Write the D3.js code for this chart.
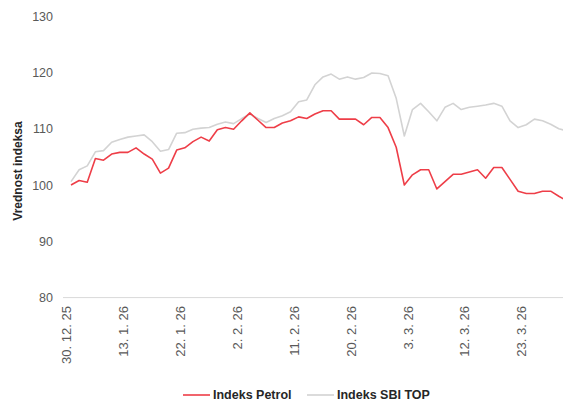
<!DOCTYPE html>
<html>
<head>
<meta charset="utf-8">
<script src="https://cdn.jsdelivr.net/npm/d3@7"></script>
<style>
  body { margin: 0; background: #fff; }
  svg { display: block; font-family: "Liberation Sans", Arial, sans-serif; }
</style>
</head>
<body>
<svg id="chart" width="563" height="403"></svg>
<script>
// trading days (category axis), every 7th one is labelled
var dates = ["30. 12. 25","5. 1. 26","6. 1. 26","7. 1. 26","8. 1. 26","9. 1. 26","12. 1. 26","13. 1. 26",
  "14. 1. 26","15. 1. 26","16. 1. 26","19. 1. 26","20. 1. 26","21. 1. 26","22. 1. 26",
  "23. 1. 26","26. 1. 26","27. 1. 26","28. 1. 26","29. 1. 26","30. 1. 26","2. 2. 26",
  "3. 2. 26","4. 2. 26","5. 2. 26","6. 2. 26","9. 2. 26","10. 2. 26","11. 2. 26",
  "12. 2. 26","13. 2. 26","16. 2. 26","17. 2. 26","18. 2. 26","19. 2. 26","20. 2. 26",
  "23. 2. 26","24. 2. 26","25. 2. 26","26. 2. 26","27. 2. 26","2. 3. 26","3. 3. 26",
  "4. 3. 26","5. 3. 26","6. 3. 26","9. 3. 26","10. 3. 26","11. 3. 26","12. 3. 26",
  "13. 3. 26","16. 3. 26","17. 3. 26","18. 3. 26","19. 3. 26","20. 3. 26","23. 3. 26",
  "24. 3. 26","25. 3. 26","26. 3. 26","27. 3. 26","30. 3. 26"];

var petrol = [100.0,100.8,100.5,104.7,104.4,105.5,105.8,105.8,106.6,105.5,
  104.6,102.1,103.0,106.2,106.6,107.7,108.5,107.8,109.8,110.2,
  109.9,111.4,112.8,111.5,110.2,110.2,111.0,111.4,112.1,111.8,
  112.6,113.2,113.2,111.7,111.7,111.7,110.7,112.0,112.0,110.2,
  106.7,100.0,101.8,102.7,102.7,99.3,100.6,101.9,101.9,102.3,
  102.7,101.2,103.1,103.1,101.0,98.9,98.5,98.5,98.9,98.9,
  98.0,97.2];

var sbiTop = [100.6,102.7,103.4,105.9,106.1,107.6,108.1,108.5,108.7,108.9,
  107.7,106.0,106.3,109.2,109.3,109.9,110.1,110.2,110.8,111.2,
  110.9,111.8,112.6,111.8,111.1,111.8,112.3,113.0,114.8,115.1,
  117.8,119.2,119.7,118.8,119.2,118.8,119.1,119.9,119.8,119.4,
  115.4,108.7,113.4,114.5,113.0,111.4,113.8,114.5,113.4,113.8,
  114.0,114.2,114.5,114.0,111.4,110.2,110.7,111.7,111.4,110.8,
  110.0,109.6];

var yTicks = [80, 90, 100, 110, 120, 130];
var seriesNames = ["Indeks Petrol", "Indeks SBI TOP"];
var colors = ["#ee3e48", "#d3d3d3"];

var svg = d3.select("#chart");
var step = 8.13;
var x = d3.scalePoint().domain(dates).range([71, 71 + step*(dates.length-1)]);
var y = d3.scaleLinear().domain([80, 130]).range([297.6, 16.1]);

// y axis labels
var yAxis = svg.append("g")
    .attr("transform", "translate(53,0)")
    .call(d3.axisLeft(y).tickValues(yTicks).tickSize(0).tickPadding(0));
yAxis.select(".domain").remove();
yAxis.selectAll("text")
    .attr("fill", "#595959")
    .attr("font-size", "12.5px")
    .attr("font-family", "Liberation Sans, Arial, sans-serif");

// baseline at 80
svg.append("line")
    .attr("x1", 63).attr("x2", 563)
    .attr("y1", y(80)).attr("y2", y(80))
    .attr("stroke", "#d9d9d9").attr("stroke-width", 1);

// x axis labels, rotated
var xAxis = svg.append("g")
    .attr("transform", `translate(0, ${y(80)})`)
    .call(d3.axisBottom(x).tickValues(dates.filter((d, i) => i % 7 == 0)).tickSize(0));
xAxis.select(".domain").remove();
xAxis.selectAll("text")
    .attr("transform", "rotate(-90)")
    .attr("text-anchor", "end")
    .attr("x", -8.5)
    .attr("y", -5)
    .attr("dy", "0.35em")
    .attr("fill", "#595959")
    .attr("font-size", "13px")
    .attr("font-family", "Liberation Sans, Arial, sans-serif");

// y axis title
svg.append("text")
    .attr("transform", "translate(21.5,171) rotate(-90)")
    .attr("text-anchor", "middle")
    .attr("font-size", "12px")
    .attr("font-weight", "bold")
    .attr("fill", "#262626")
    .text("Vrednost indeksa");

// lines (SBI TOP drawn first, Petrol on top)
var line = d3.line().x((d, i) => x(dates[i])).y(d => y(d));
svg.append("path").datum(sbiTop)
    .attr("d", line).attr("fill", "none")
    .attr("stroke", colors[1]).attr("stroke-width", 1.6).attr("stroke-linejoin", "round");
svg.append("path").datum(petrol)
    .attr("d", line).attr("fill", "none")
    .attr("stroke", colors[0]).attr("stroke-width", 1.6).attr("stroke-linejoin", "round");

// legend
var legendX = [183, 307];
var legend = svg.selectAll(".leg").data(seriesNames).enter().append("g")
    .attr("class", "leg")
    .attr("transform", (d, i) => `translate(${legendX[i]}, 395)`);
legend.append("line")
    .attr("x1", 0).attr("x2", 27).attr("y1", 0).attr("y2", 0)
    .attr("stroke", (d, i) => colors[i]).attr("stroke-width", 1.6);
legend.append("text")
    .attr("x", 30).attr("dy", "0.35em")
    .attr("font-size", "12.5px").attr("font-weight", "bold")
    .attr("fill", "#262626")
    .text(d => d);
</script>
</body>
</html>
